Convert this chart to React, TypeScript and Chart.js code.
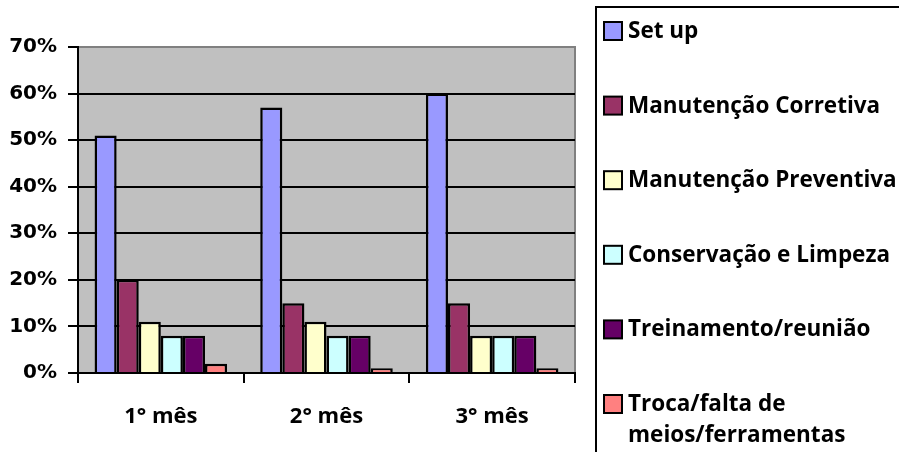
import { useEffect, useRef } from "react";
import { Chart, registerables } from "chart.js";

Chart.register(...registerables);

const categories = ["1° mês", "2° mês", "3° mês"];
const seriesNames = [
  "Set up",
  "Manutenção Corretiva",
  "Manutenção Preventiva",
  "Conservação e Limpeza",
  "Treinamento/reunião",
  "Troca/falta de meios/ferramentas",
];
const setUp = [51, 57, 60];
const corretiva = [20, 15, 15];
const preventiva = [11, 11, 8];
const conservacao = [8, 8, 8];
const treinamento = [8, 8, 8];
const troca = [2, 1, 1];
const seriesColors = ["#9999FF", "#993366", "#FFFFCC", "#CCFFFF", "#660066", "#FF8080"];
const yMin = 0;
const yMax = 70;
const yStep = 10;

const YFONT = "'DejaVu Sans', sans-serif";
const TFONT = "'Open Sans', 'Noto Sans', sans-serif";

const bgPlugin = {
  id: "plotBg",
  beforeDraw(chart: any) {
    const { ctx, chartArea: a } = chart;
    ctx.save();
    ctx.fillStyle = "#C0C0C0";
    ctx.fillRect(a.left, a.top, a.right - a.left, a.bottom - a.top);
    ctx.strokeStyle = "#808080";
    ctx.lineWidth = 2;
    ctx.beginPath();
    ctx.moveTo(a.left, a.top);
    ctx.lineTo(a.right, a.top);
    ctx.lineTo(a.right, a.bottom);
    ctx.stroke();
    ctx.restore();
  },
};

const legendPlugin = {
  id: "boxLegend",
  afterDraw(chart: any) {
    const ctx = chart.ctx;
    ctx.save();
    ctx.strokeStyle = "#000";
    ctx.lineWidth = 2;
    ctx.strokeRect(596, 7, 400, 500);
    ctx.font = `bold 22.5px ${TFONT}`;
    ctx.textBaseline = "alphabetic";
    ctx.textAlign = "left";
    const maxW = 300;
    chart.data.datasets.forEach((ds: any, i: number) => {
      const base = 38 + i * 74.6;
      ctx.fillStyle = ds.backgroundColor;
      ctx.fillRect(604, base - 16, 18, 18);
      ctx.lineWidth = 2;
      ctx.strokeStyle = "#000";
      ctx.strokeRect(604, base - 16, 18, 18);
      const words = String(ds.label).split(" ");
      const lines: string[] = [];
      let cur = "";
      for (const w of words) {
        const test = cur ? cur + " " + w : w;
        if (cur && ctx.measureText(test).width > maxW) {
          lines.push(cur);
          cur = w;
        } else cur = test;
      }
      if (cur) lines.push(cur);
      ctx.fillStyle = "#000";
      lines.forEach((ln, j) => ctx.fillText(ln, 628, base + j * 31));
    });
    ctx.restore();
  },
};

export default function App() {
  const ref = useRef<HTMLCanvasElement | null>(null);
  useEffect(() => {
    document.body.style.margin = "0";
    const values = [setUp, corretiva, preventiva, conservacao, treinamento, troca];
    const chart = new Chart(ref.current as HTMLCanvasElement, {
      type: "bar",
      data: {
        labels: categories,
        datasets: values.map((v, i) => ({
          label: seriesNames[i],
          data: v,
          backgroundColor: seriesColors[i],
          borderColor: "#000",
          borderWidth: 2.5,
          categoryPercentage: 0.8,
          barPercentage: 1,
        })),
      },
      options: {
        responsive: false,
        animation: false,
        devicePixelRatio: 1,
        layout: { padding: { top: 47, right: 324, left: 0, bottom: 0 } },
        plugins: { legend: { display: false }, tooltip: { enabled: false } },
        scales: {
          x: {
            afterFit: (s: any) => {
              s.height = 79;
            },
            grid: {
              offset: true,
              drawOnChartArea: false,
              drawTicks: true,
              tickLength: 10,
              color: "#000",
              lineWidth: 2,
            },
            border: { color: "#000", width: 2 },
            ticks: {
              color: "#000",
              font: { family: TFONT, size: 22, weight: "bold" },
              padding: 21,
              maxRotation: 0,
            },
          },
          y: {
            min: yMin,
            max: yMax,
            afterFit: (s: any) => {
              s.width = 78;
            },
            grid: {
              color: (c: any) => (c.tick && c.tick.value === yMax ? "#808080" : "#000"),
              tickColor: "#000",
              lineWidth: 2,
              tickLength: 10,
            },
            border: { color: "#000", width: 2 },
            ticks: {
              stepSize: yStep,
              color: "#000",
              font: { family: YFONT, size: 20, weight: "bold" },
              padding: 11,
              callback: (v: any) => v + "%",
            },
          },
        },
      },
      plugins: [bgPlugin, legendPlugin],
    });
    return () => chart.destroy();
  }, []);
  return (
    <div style={{ width: 899, height: 452 }}>
      <canvas ref={ref} width={899} height={452} style={{ display: "block" }} />
    </div>
  );
}
